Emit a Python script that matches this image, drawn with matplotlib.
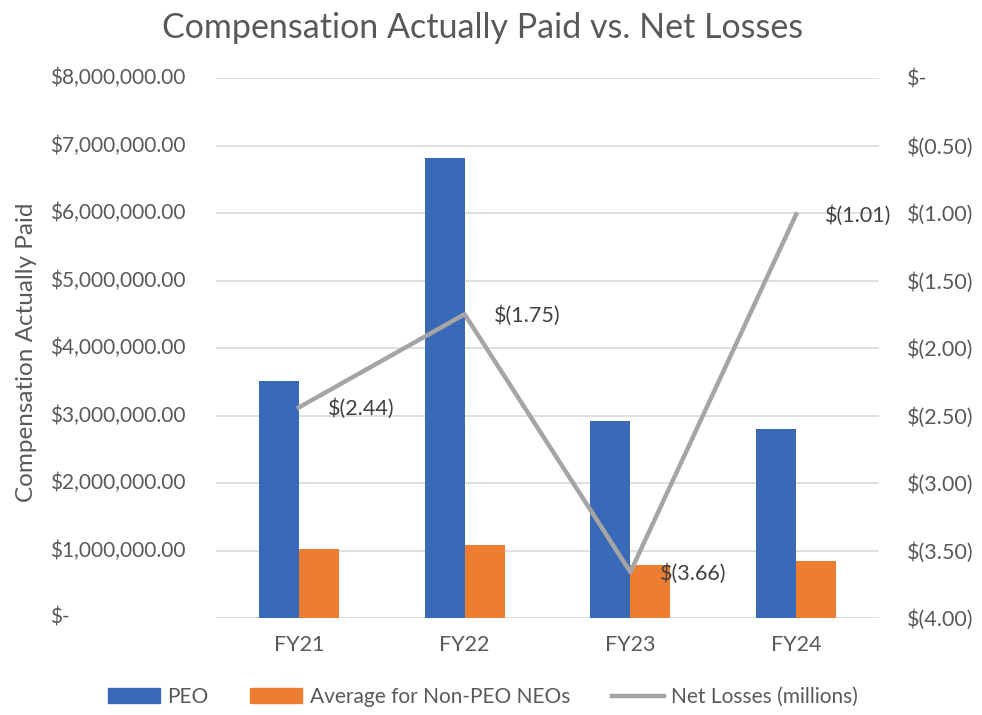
import matplotlib
matplotlib.use("Agg")
import matplotlib.pyplot as plt
from matplotlib.patches import Patch
from matplotlib.lines import Line2D
import numpy as np

categories = ["FY21", "FY22", "FY23", "FY24"]
peo = [3510000, 6810000, 2920000, 2800000]
non_peo = [1020000, 1080000, 785000, 840000]
net_losses = [-2.44, -1.75, -3.66, -1.01]
left_ticks = [0, 1e6, 2e6, 3e6, 4e6, 5e6, 6e6, 7e6, 8e6]
right_ticks = [-4.0, -3.5, -3.0, -2.5, -2.0, -1.5, -1.0, -0.5, 0.0]

FONT = ["Lato", "DejaVu Sans"]
plt.rcParams["font.family"] = FONT
TXT = "#595959"
BLUE = "#3A69B7"
ORANGE = "#ED7D31"
GRAY = "#A5A5A5"

fig = plt.figure(figsize=(9.82, 7.15), dpi=100)
ax_l, ax_r = 216/982, 879/982
ax = fig.add_axes([ax_l, 1-618/715, ax_r-ax_l, (618-78)/715])

x = np.arange(len(categories))
w = 0.241
ax.bar(x - w/2, peo, width=w, color=BLUE, zorder=2)
ax.bar(x + w/2, non_peo, width=w, color=ORANGE, zorder=2)
ax.set_xlim(-0.5, 3.5)
ax.set_ylim(0, 8e6)
ax.set_yticks(left_ticks)
ax.set_yticklabels([])

def fmt_left(v):
    return "$-" if v == 0 else "${:,.2f}".format(v)
# left-aligned tick labels (accounting style)
label_x = (50/982 - ax_l) / (ax_r - ax_l)
for v in left_ticks:
    ax.text(label_x, v, fmt_left(v), transform=ax.get_yaxis_transform(),
            ha="left", va="center", fontsize=15, color=TXT, clip_on=False)
ax.grid(axis="y", color="#D9D9D9", linewidth=1.2, zorder=0)
ax.set_axisbelow(True)
for s in ax.spines.values():
    s.set_visible(False)
ax.tick_params(axis="y", length=0)
ax.set_xticks(x)
ax.set_xticklabels(categories)
ax.tick_params(axis="x", length=0, pad=12, labelsize=15.5, labelcolor=TXT)

ax2 = ax.twinx()
ax2.plot(x, net_losses, color=GRAY, linewidth=3.2, zorder=3)
ax2.set_ylim(-4, 0)
ax2.set_yticks(right_ticks)

def fmt_right(v):
    return "$-" if v == 0 else "$({:.2f})".format(abs(v))
ax2.set_yticklabels([fmt_right(v) for v in right_ticks])
ax2.tick_params(axis="y", length=0, pad=20, labelsize=15.5, labelcolor=TXT)
for s in ax2.spines.values():
    s.set_visible(False)
for xi, v in zip(x, net_losses):
    ax2.annotate(fmt_right(v), (xi, v), xytext=(21, -1), textcoords="offset points",
                 ha="left", va="center", fontsize=15.5, color="#404040")

fig.text(483/982, 1-28/715, "Compensation Actually Paid vs. Net Losses",
         ha="center", va="center", fontsize=24.5, color=TXT)
fig.text(27/982, 1-352/715, "Compensation Actually Paid", rotation=90,
         ha="center", va="center", fontsize=17.5, color=TXT)

handles = [Patch(color=BLUE), Patch(color=ORANGE), Line2D([], [], color=GRAY, linewidth=3.2)]
labels = ["PEO", "Average for Non-PEO NEOs", "Net Losses (millions)"]
fig.legend(handles, labels, loc="center", bbox_to_anchor=(483/982, 1-697/715), ncol=3,
           frameon=False, fontsize=15, labelcolor=TXT, handlelength=2.5,
           handletextpad=0.35, columnspacing=2.0, handleheight=0.7)

fig.savefig("out.png", dpi=100)
